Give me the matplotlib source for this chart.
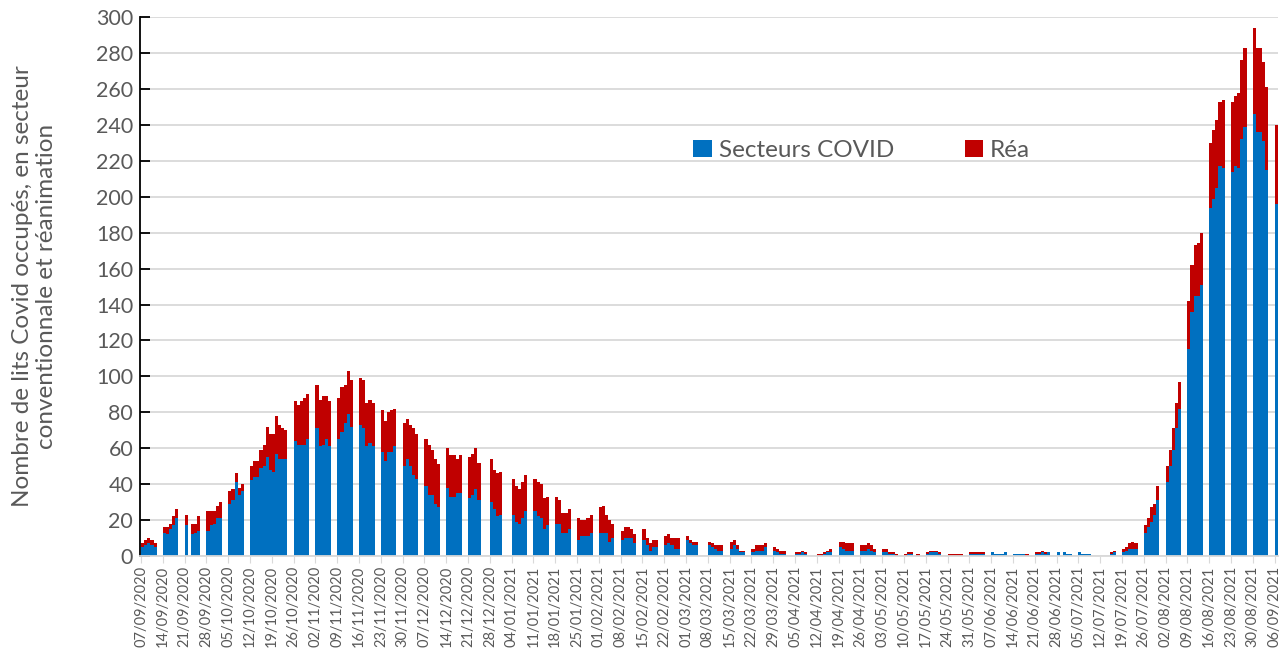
import numpy as np
import pandas as pd
import matplotlib
matplotlib.use('Agg')
import matplotlib.pyplot as plt

plt.rcParams['font.family'] = ['Lato', 'DejaVu Sans']

dates = pd.date_range('2020-09-07', '2021-09-06', freq='D')

# one line per week, Mon..Sun, None = no data
covid = [
    5, 6, 7, 6, 5, None, None,            # 07/09/2020
    13, 12, 15, 17, 21, None, None,       # 14/09
    17, None, 12, 13, 14, None, None,     # 21/09
    14, 17, 18, 21, 21, None, None,       # 28/09
    29, 31, 41, 34, 36, None, None,       # 05/10
    42, 44, 44, 49, 50, 55, 48,           # 12/10
    47, 57, 54, 54, 54, None, None,       # 19/10
    64, 62, 62, 62, 65, None, None,       # 26/10
    71, 61, 62, 65, 61, None, None,       # 02/11
    65, 69, 74, 79, 72, None, None,       # 09/11
    73, 71, 61, 63, 61, None, None,       # 16/11
    58, 53, 58, 58, 61, None, None,       # 23/11
    50, 54, 50, 45, 43, None, None,       # 30/11
    39, 34, 34, 29, 27, None, None,       # 07/12
    38, 33, 33, 35, 35, None, None,       # 14/12
    32, 34, 37, 31, None, None, None,     # 21/12
    30, 26, 22, 23, None, None, None,     # 28/12
    23, 19, 18, 21, 25, None, None,       # 04/01/2021
    25, 22, 21, 15, 17, None, None,       # 11/01
    18, 18, 13, 13, 15, None, None,       # 18/01
    9, 11, 11, 11, 13, None, None,        # 25/01
    13, 13, 13, 8, 10, None, None,        # 01/02
    9, 10, 10, 10, 7, None, None,         # 08/02
    9, 6, 3, 5, 5, None, None,            # 15/02
    6, 7, 6, 4, 4, None, None,            # 22/02
    9, 7, 6, 6, None, None, None,         # 01/03
    6, 5, 4, 3, 3, None, None,            # 08/03
    4, 6, 4, 2, 2, None, None,            # 15/03
    2, 3, 3, 3, 5, None, None,            # 22/03
    3, 2, 1, 1, None, None, None,         # 29/03
    1, 1, 2, 1, None, None, None,         # 05/04
    0, 0, 1, 2, 2, None, None,            # 12/04
    5, 4, 3, 3, 3, None, None,            # 19/04
    3, 3, 4, 3, 2, None, None,            # 26/04
    2, 2, 1, 1, 0, None, None,            # 03/05
    0, 1, 1, None, 0, None, None,         # 10/05
    1, 2, 2, 2, 1, None, None,            # 17/05
    0, 0, 0, 0, 0, None, None,            # 24/05
    1, 1, 1, 1, 1, None, None,            # 31/05
    2, 1, 1, 1, 2, None, None,            # 07/06
    1, 1, 1, 1, 0, None, None,            # 14/06
    1, 1, 2, 1, 2, None, None,            # 21/06
    2, None, 2, 1, 1, None, None,         # 28/06
    2, 1, 1, 1, None, None, None,         # 05/07
    None, None, None, 1, 2, None, None,   # 12/07
    2, 3, 4, 4, 4, None, None,            # 19/07
    13, 16, 19, 23, 31, None, None,       # 26/07
    41, 50, 59, 71, 82, None, None,       # 02/08
    115, 136, 145, 145, 151, None, None,  # 09/08
    194, 199, 205, 217, 216, None, None,  # 16/08
    214, 217, 216, 232, 239, None, None,  # 23/08
    246, 236, 236, 231, 215, None, None,  # 30/08
    196,                                  # 06/09
]

rea = [
    2, 3, 3, 3, 2, None, None,
    3, 4, 3, 5, 5, None, None,
    6, None, 6, 5, 8, None, None,
    11, 8, 7, 7, 9, None, None,
    7, 6, 5, 4, 4, None, None,
    8, 9, 9, 10, 12, 17, 20,
    21, 21, 19, 17, 16, None, None,
    22, 22, 24, 26, 25, None, None,
    24, 26, 27, 24, 25, None, None,
    23, 25, 21, 24, 26, None, None,
    26, 27, 24, 24, 24, None, None,
    23, 22, 22, 23, 21, None, None,
    24, 22, 23, 26, 25, None, None,
    26, 28, 25, 25, 24, None, None,
    22, 23, 23, 19, 21, None, None,
    23, 23, 23, 21, None, None, None,
    24, 22, 24, 24, None, None, None,
    20, 20, 19, 20, 20, None, None,
    18, 19, 19, 17, 16, None, None,
    15, 13, 11, 11, 11, None, None,
    12, 9, 9, 10, 10, None, None,
    14, 15, 10, 12, 8, None, None,
    5, 6, 6, 5, 5, None, None,
    6, 4, 4, 4, 4, None, None,
    5, 5, 4, 6, 6, None, None,
    2, 2, 2, 2, None, None, None,
    2, 2, 2, 3, 3, None, None,
    4, 3, 2, 1, 1, None, None,
    2, 3, 3, 3, 2, None, None,
    2, 2, 2, 2, None, None, None,
    1, 1, 1, 1, None, None, None,
    1, 1, 1, 1, 2, None, None,
    3, 4, 4, 4, 4, None, None,
    3, 3, 3, 3, 2, None, None,
    2, 2, 1, 1, 1, None, None,
    1, 1, 1, None, 1, None, None,
    1, 1, 1, 1, 1, None, None,
    1, 1, 1, 1, 1, None, None,
    1, 1, 1, 1, 1, None, None,
    0, 0, 0, 0, 0, None, None,
    0, 0, 0, 0, 1, None, None,
    1, 1, 1, 1, 0, None, None,
    0, None, 0, 0, 0, None, None,
    0, 0, 0, 0, None, None, None,
    None, None, None, 1, 1, None, None,
    2, 2, 3, 4, 3, None, None,
    4, 5, 8, 6, 8, None, None,
    9, 9, 12, 14, 15, None, None,
    27, 26, 28, 29, 29, None, None,
    36, 38, 38, 36, 38, None, None,
    39, 39, 42, 44, 44, None, None,
    48, 47, 47, 44, 46, None, None,
    44,
]

covid = np.array(covid, dtype=float)
rea = np.array(rea, dtype=float)
x = np.arange(len(dates))

fig = plt.figure(figsize=(12.86, 6.61), dpi=100)
ax = fig.add_axes([0.109, 0.159, 0.885, 0.815])

ax.bar(x, covid, width=1.0, align='edge', color='#0070C0', linewidth=0,
       label='Secteurs COVID', zorder=2)
ax.bar(x, rea, bottom=np.nan_to_num(covid), width=1.0, align='edge', color='#C00000',
       linewidth=0, label='Réa', zorder=2)

ax.set_ylim(0, 300)
ax.set_yticks(range(0, 301, 20))
ax.set_xlim(-0.3, 365.2)
ax.set_xticks(x[::7])
ax.set_xticklabels(dates[::7].strftime('%d/%m/%Y'), rotation=90)

ax.grid(axis='y', color='#D9D9D9', linewidth=1.3, zorder=0)
ax.set_axisbelow(True)
for s in ['top', 'right']:
    ax.spines[s].set_visible(False)
ax.spines['left'].set_color('black')
ax.spines['left'].set_linewidth(1.3)
ax.spines['bottom'].set_color('#D9D9D9')
ax.spines['bottom'].set_linewidth(1.3)
ax.tick_params(axis='y', direction='in', length=7, width=1.3, color='black',
               labelsize=15.5, labelcolor='#595959', pad=5)
ax.tick_params(axis='x', direction='out', length=5, color='#D9D9D9',
               labelsize=10.5, labelcolor='#595959', pad=2)

ax.set_ylabel('Nombre de lits Covid occupés, en secteur\nconventionnale et réanimation',
              fontsize=17.5, color='#595959', labelpad=28)

ax.legend(loc='center', bbox_to_anchor=(0.634, 0.753), ncol=2, frameon=False,
          fontsize=17.5, labelcolor='#595959', handlelength=0.75, handleheight=0.75,
          columnspacing=2.9, handletextpad=0.3)

fig.savefig('out.png', dpi=100)
